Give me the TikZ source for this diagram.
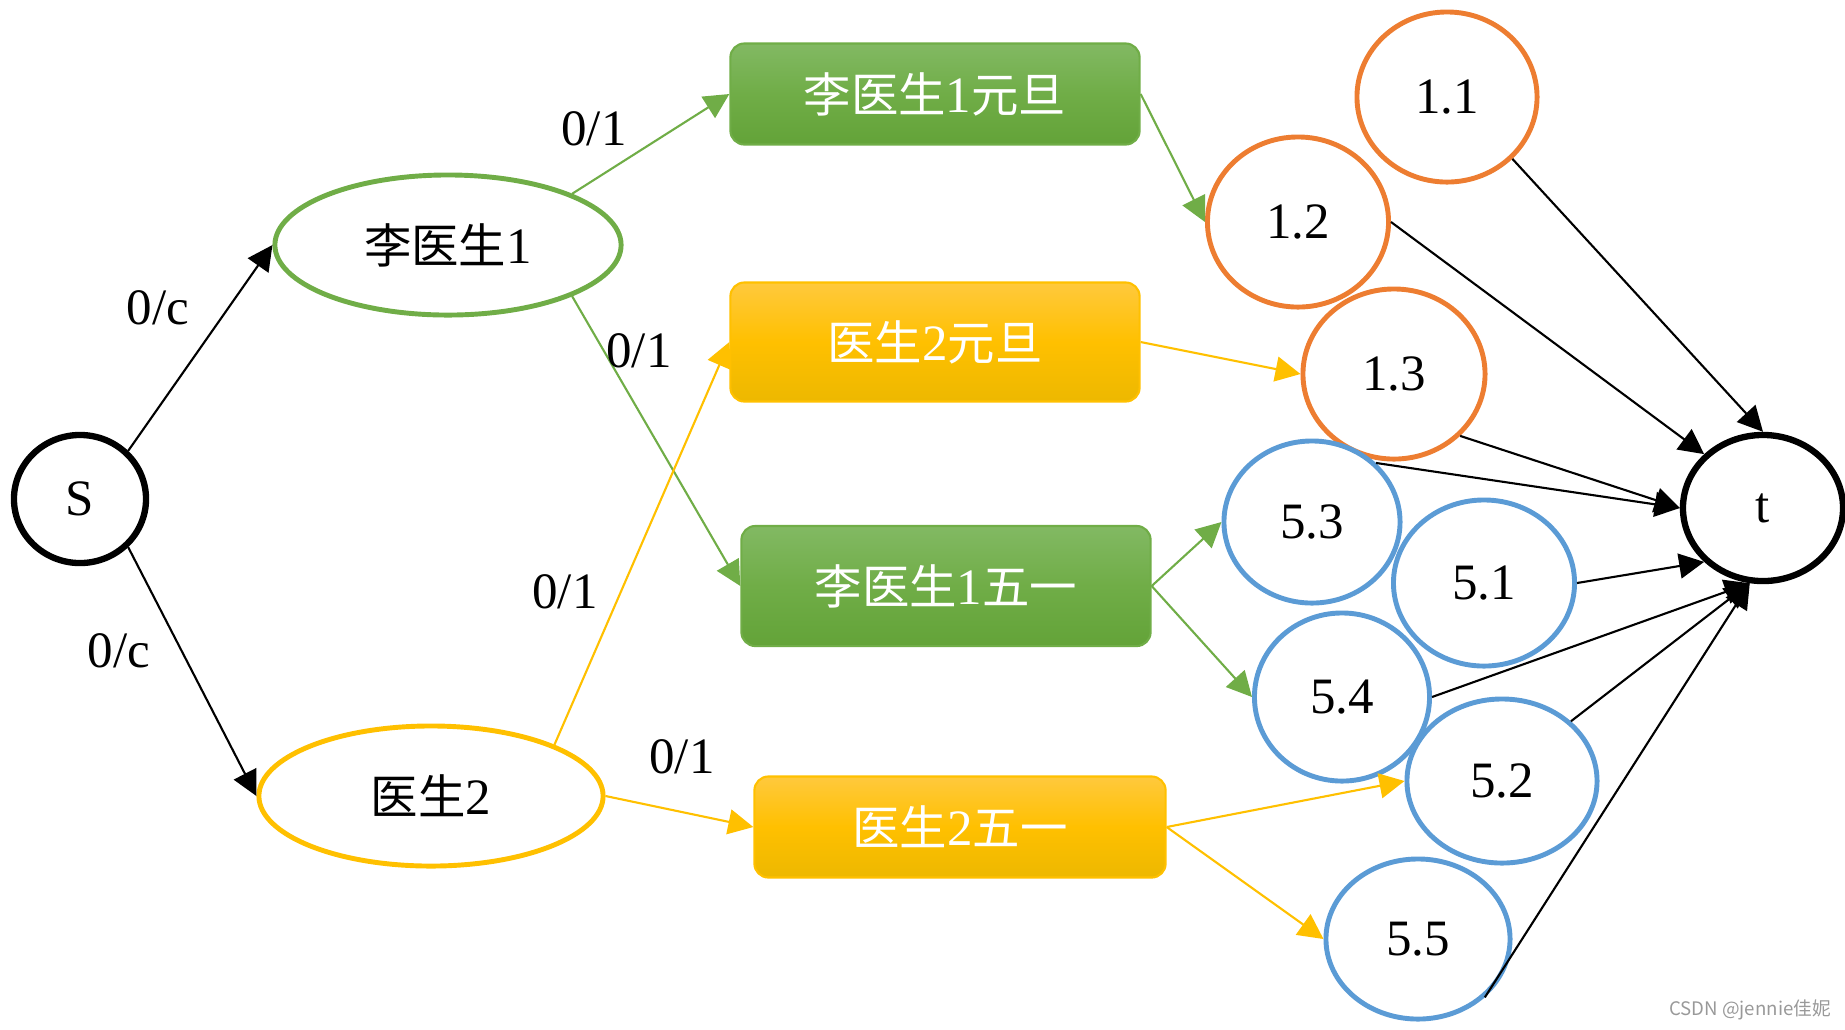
\documentclass[tikz,border=0pt]{standalone}
\usepackage{fontspec}
\setmainfont{Liberation Serif}
\newfontfamily\cjk[Scale=0.93]{Noto Sans CJK SC}
\newfontfamily\wmfont{Noto Sans CJK SC}
\usetikzlibrary{shapes.geometric,arrows.meta}
\definecolor{cgreen}{HTML}{70AD47}
\definecolor{cgreenT}{HTML}{82B963}
\definecolor{cgreenB}{HTML}{63A338}
\definecolor{cgold}{HTML}{FFC000}
\definecolor{cgoldT}{HTML}{FFC93D}
\definecolor{cgoldB}{HTML}{EDB800}
\definecolor{corange}{HTML}{ED7D31}
\definecolor{cblue}{HTML}{5B9BD5}
\tikzset{
  txt/.style={font=\fontsize{14.5}{17}\selectfont},
  endnode/.style={ellipse, draw=black, line width=1.8pt, inner sep=0pt, txt},
  docnode/.style={ellipse, line width=1.4pt, inner sep=0pt, txt},
  numnode/.style={ellipse, line width=1.4pt, inner sep=0pt, txt},
  orangec/.style={numnode, draw=corange},
  bluec/.style={numnode, draw=cblue},
  greenbox/.style={rectangle, rounded corners=0.14cm, draw=cgreen, line width=0.6pt,
     top color=cgreenT, bottom color=cgreenB, middle color=cgreen, text=white, txt, inner sep=0pt},
  goldbox/.style={rectangle, rounded corners=0.14cm, draw=cgold, line width=0.6pt,
     top color=cgoldT, bottom color=cgoldB, middle color=cgold, text=white, txt, inner sep=0pt},
  arr/.style={line width=0.6pt, -{Triangle[length=0.25cm, width=0.25cm]}},
  barr/.style={arr, draw=black, fill=black},
  garr/.style={arr, draw=cgreen, fill=cgreen},
  yarr/.style={arr, draw=cgold, fill=cgold},
  lab/.style={txt, inner sep=0pt},
}
\begin{document}
\begin{tikzpicture}[x=0.01cm,y=-0.01cm]
\useasboundingbox (0,0) rectangle (1845,1029);
% end nodes
\node[endnode, minimum width=1.32cm, minimum height=1.28cm] (S) at (80,499) {S};
\node[endnode, minimum width=1.60cm, minimum height=1.46cm] (t) at (1763,508) {t};
% doctors
\node[docnode, draw=cgreen, minimum width=3.46cm, minimum height=1.40cm] (D1) at (448,245) {{\cjk 李医生}1};
\node[docnode, draw=cgold, minimum width=3.44cm, minimum height=1.40cm] (D2) at (431,796) {{\cjk 医生}2};
% boxes
\node[greenbox, minimum width=4.09cm, minimum height=1.01cm] (A) at (935,94) {{\cjk 李医生}1{\cjk 元旦}};
\node[goldbox, minimum width=4.09cm, minimum height=1.19cm] (B) at (935,342) {{\cjk 医生}2{\cjk 元旦}};
\node[greenbox, minimum width=4.09cm, minimum height=1.20cm] (C) at (946,586) {{\cjk 李医生}1{\cjk 五一}};
\node[goldbox, minimum width=4.11cm, minimum height=1.01cm] (D) at (960,827) {{\cjk 医生}2{\cjk 五一}};
% number circles
\node[orangec, minimum width=1.80cm, minimum height=1.70cm] (n11) at (1447,97) {1.1};
\node[orangec, minimum width=1.81cm, minimum height=1.70cm] (n12) at (1298,222) {1.2};
\node[orangec, minimum width=1.82cm, minimum height=1.70cm] (n13) at (1394,374) {1.3};
\node[bluec, minimum width=1.76cm, minimum height=1.62cm] (n53) at (1312,522) {5.3};
\node[bluec, minimum width=1.81cm, minimum height=1.66cm] (n51) at (1484,583) {5.1};
\node[bluec, minimum width=1.75cm, minimum height=1.68cm] (n54) at (1342,697) {5.4};
\node[bluec, minimum width=1.90cm, minimum height=1.64cm] (n52) at (1502,781) {5.2};
\node[bluec, minimum width=1.84cm, minimum height=1.60cm] (n55) at (1418,939) {5.5};
% edges from S
\draw[barr] (S.45) -- (D1.west);
\draw[barr] (S.-45) -- (D2.west);
% doctor to shifts
\draw[garr] (D1.north east) -- (A.west);
\draw[garr] (D1.south east) -- (C.west);
\draw[yarr] (D2.north east) -- (B.west);
\draw[yarr] (D2.east) -- (D.west);
% shifts to days
\draw[garr] (A.east) -- (n12.west);
\draw[yarr] (B.east) -- (n13.west);
\draw[garr] (C.east) -- (n53.west);
\draw[garr] (C.east) -- (n54.west);
\draw[yarr] (D.east) -- (n52.west);
\draw[yarr] (D.east) -- (n55.west);
% days to t
\draw[barr] (n11.south east) -- (t.north);
\draw[barr] (n12.east) -- (t.north west);
\draw[barr] (n13.south east) -- (t.west);
\draw[barr] (n53.north east) -- (t.west);
\draw[barr] (n51.east) -- (t.south west);
\draw[barr] (n54.east) -- (t.-100);
\draw[barr] (n52.north east) -- (t.-100);
\draw[barr] (n55.south east) -- (t.-100);
% labels
\node[lab] (l1) at (158,308) {0/c};
\node[lab] (l2) at (119,651) {0/c};
\node[lab] (l3) at (594,129) {0/1};
\node[lab] (l4) at (639,351) {0/1};
\node[lab] (l5) at (565,592) {0/1};
\node[lab] (l6) at (682,757) {0/1};
% watermark
\node[text=black!40, font=\wmfont\fontsize{5.3}{6}\selectfont, inner sep=0pt] (wm) at (1750,1010) {CSDN @jennie佳妮};
\end{tikzpicture}
\end{document}
